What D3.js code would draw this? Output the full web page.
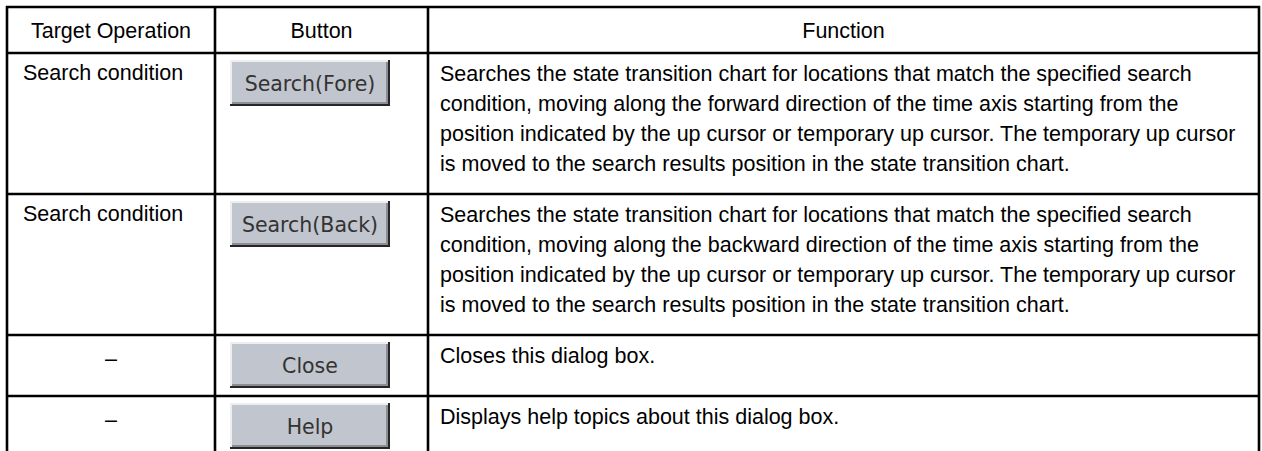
<!DOCTYPE html>
<html><head><meta charset="utf-8">
<script src="https://cdn.jsdelivr.net/npm/d3@7"></script>
<style>html,body{margin:0;padding:0;background:#fff;overflow:hidden}</style>
</head><body>
<svg id="c" width="1262" height="451"></svg>
<script>
const headers = ["Target Operation", "Button", "Function"];
const operations = ["Search condition", "Search condition", "\u2013", "\u2013"];
const buttons = ["Search(Fore)", "Search(Back)", "Close", "Help"];
const functionLines = [
  ["Searches the state transition chart for locations that match the specified search",
   "condition, moving along the forward direction of the time axis starting from the",
   "position indicated by the up cursor or temporary up cursor. The temporary up cursor",
   "is moved to the search results position in the state transition chart."],
  ["Searches the state transition chart for locations that match the specified search",
   "condition, moving along the backward direction of the time axis starting from the",
   "position indicated by the up cursor or temporary up cursor. The temporary up cursor",
   "is moved to the search results position in the state transition chart."],
  ["Closes this dialog box."],
  ["Displays help topics about this dialog box."]
];

const svg = d3.select("#c");
const colEdges = [7, 215, 428, 1259];
const lineH = 30, headerH = 46, fs = 21.5;
const font = "'Liberation Sans', Arial, sans-serif";

const rowH = functionLines.map(l => Math.max(l.length * lineH + 21, 61));
const rowTop = [];
let y = 7 + headerH;
rowH.forEach(h => { rowTop.push(y); y += h; });

const g = svg.append("g");

g.selectAll("text.h").data(headers).join("text")
  .attr("x", (d, i) => (colEdges[i] + colEdges[i + 1]) / 2)
  .attr("y", 7 + headerH / 2 + 8)
  .attr("text-anchor", "middle")
  .attr("font-family", font).attr("font-size", fs).attr("fill", "#000")
  .text(d => d);

const rows = g.selectAll("g.row").data(d3.range(operations.length)).join("g")
  .attr("transform", i => `translate(0,${rowTop[i]})`);

rows.append("text")
  .attr("x", i => operations[i] === "\u2013" ? (colEdges[0] + colEdges[1]) / 2 : 23)
  .attr("text-anchor", i => operations[i] === "\u2013" ? "middle" : "start")
  .attr("y", i => operations[i] === "\u2013" ? 31 : 27)
  .attr("font-family", font).attr("font-size", fs).attr("fill", "#000")
  .text(i => operations[i]);

const bx = 230, bw = 160, bh = 46, by = 7;
const btn = rows.append("g").attr("transform", `translate(${bx},${by})`);
btn.append("rect").attr("width", bw).attr("height", bh).attr("fill", "#c1c5cd");
btn.append("path").attr("d", `M1,${bh} V1 H${bw}`).attr("fill", "none").attr("stroke", "#eceef2").attr("stroke-width", 2);
btn.append("path").attr("d", `M2,${bh - 3} H${bw - 3} V2`).attr("fill", "none").attr("stroke", "#8c8e94").attr("stroke-width", 2);
btn.append("path").attr("d", `M0,${bh - 1} H${bw - 1} V0`).attr("fill", "none").attr("stroke", "#262626").attr("stroke-width", 2);
btn.append("text")
  .attr("x", bw / 2).attr("y", bh / 2 + 8)
  .attr("text-anchor", "middle")
  .attr("font-family", "'DejaVu Sans', Tahoma, sans-serif").attr("font-size", 20.5)
  .attr("fill", "#333")
  .text(i => buttons[i]);

rows.each(function(i) {
  d3.select(this).selectAll("text.f").data(functionLines[i]).join("text")
    .attr("class", "f")
    .attr("x", colEdges[2] + 12)
    .attr("y", (d, k) => 28 + k * lineH)
    .attr("font-family", font).attr("font-size", fs).attr("fill", "#000")
    .text(d => d);
});

const tableBottom = y;
const hLines = [7, 7 + headerH].concat(rowTop.slice(1)).concat([tableBottom]);
g.selectAll("line.h").data(hLines).join("line")
  .attr("x1", colEdges[0] - 1).attr("x2", colEdges[3] + 1)
  .attr("y1", d => d).attr("y2", d => d)
  .attr("stroke", "#000").attr("stroke-width", 2.6);
g.selectAll("line.v").data(colEdges).join("line")
  .attr("class", "v")
  .attr("x1", d => d).attr("x2", d => d)
  .attr("y1", 6).attr("y2", tableBottom)
  .attr("stroke", "#000").attr("stroke-width", 2.6);
</script>
</body></html>
